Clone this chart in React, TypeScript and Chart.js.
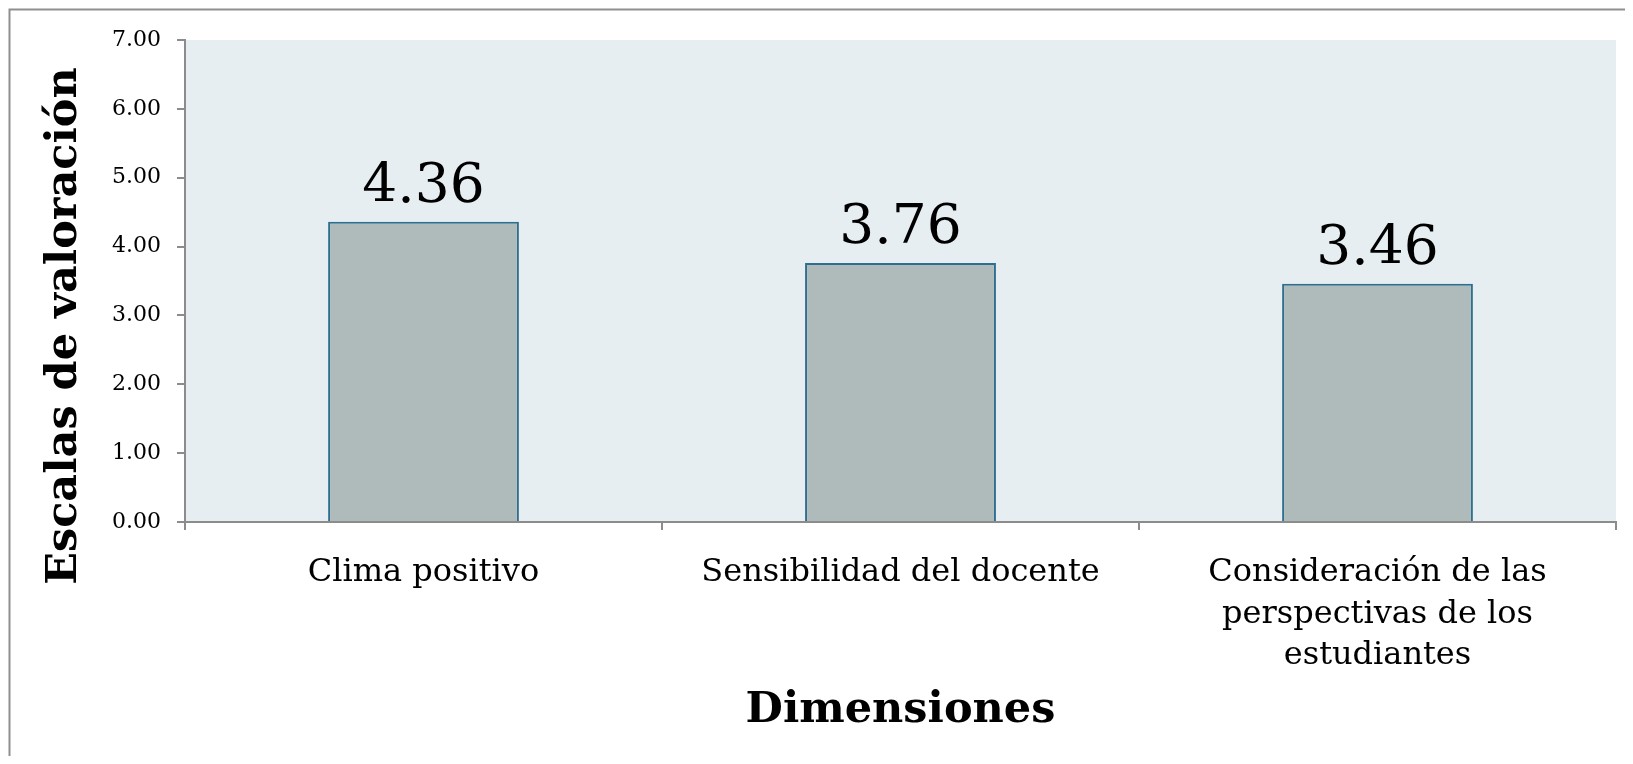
import React, { useEffect, useRef } from "react";
import { Chart, registerables } from "chart.js";

Chart.register(...registerables);

const categories: string[][] = [
  ["Clima positivo"],
  ["Sensibilidad del docente"],
  ["Consideración de las", "perspectivas de los", "estudiantes"],
];
const values: number[] = [4.36, 3.76, 3.46];
const valueLabels: string[] = ["4.36", "3.76", "3.46"];
const yMin = 0;
const yMax = 7;
const yStep = 1;
const yAxisTitle = "Escalas de valoración";
const xAxisTitle = "Dimensiones";

const FONT = "'DejaVu Serif', 'Liberation Serif', serif";

const decorPlugin = {
  id: "decor",
  beforeDraw(chart: any) {
    const { ctx, chartArea } = chart;
    ctx.save();
    ctx.fillStyle = "#E6EEF2";
    ctx.fillRect(chartArea.left, chartArea.top, chartArea.right - chartArea.left, chartArea.bottom - chartArea.top);
    ctx.restore();
  },
  afterDatasetsDraw(chart: any) {
    const { ctx } = chart;
    const meta = chart.getDatasetMeta(0);
    ctx.save();
    ctx.fillStyle = "#000";
    ctx.font = `55px ${FONT}`;
    ctx.textAlign = "center";
    ctx.textBaseline = "alphabetic";
    meta.data.forEach((bar: any, i: number) => {
      ctx.fillText(valueLabels[i], bar.x, bar.y - 20);
    });
    ctx.restore();
  },
  afterDraw(chart: any) {
    const { ctx, chartArea, width, height } = chart;
    ctx.save();
    // frame
    ctx.strokeStyle = "#8f8f8f";
    ctx.lineWidth = 2;
    ctx.strokeRect(1.5, 1.5, width + 20, height + 20);
    // x title
    ctx.fillStyle = "#000";
    ctx.font = `bold 43px ${FONT}`;
    ctx.textAlign = "center";
    ctx.textBaseline = "alphabetic";
    ctx.fillText(xAxisTitle, (chartArea.left + chartArea.right) / 2, 714);
    // y title
    ctx.translate(68, 318);
    ctx.rotate(-Math.PI / 2);
    ctx.fillText(yAxisTitle, 0, 0);
    ctx.restore();
  },
};

export default function App() {
  const ref = useRef<HTMLCanvasElement | null>(null);
  useEffect(() => {
    if (!ref.current) return;
    const chart = new Chart(ref.current, {
      type: "bar",
      data: {
        labels: categories,
        datasets: [
          {
            data: values,
            backgroundColor: "#AFBABA",
            borderColor: "#2E6E8E",
            borderWidth: 2,
            categoryPercentage: 0.4,
            barPercentage: 1,
          },
        ],
      },
      options: {
        responsive: false,
        animation: false,
        devicePixelRatio: 1,
        layout: { padding: { top: 32, right: 9, bottom: 0, left: 0 } },
        plugins: {
          legend: { display: false },
          tooltip: { enabled: false },
          title: { display: false },
        },
        scales: {
          x: {
            z: 1,
            grid: {
              offset: true,
              drawOnChartArea: false,
              drawTicks: true,
              tickLength: 8,
              color: "#8c8c8c",
              lineWidth: 2,
            },
            border: { display: true, color: "#8c8c8c", width: 2 },
            ticks: {
              color: "#000",
              padding: 22,
              maxRotation: 0,
              autoSkip: false,
              font: { family: FONT, size: 32, lineHeight: 1.3 },
            },
            afterFit(scale: any) {
              scale.height = 242;
            },
          },
          y: {
            z: 1,
            min: yMin,
            max: yMax,
            grid: {
              drawOnChartArea: false,
              drawTicks: true,
              tickLength: 8,
              color: "#8c8c8c",
              lineWidth: 2,
            },
            border: { display: true, color: "#8c8c8c", width: 2 },
            ticks: {
              stepSize: yStep,
              color: "#000",
              padding: 16,
              font: { family: FONT, size: 22 },
              callback: (v: any) => Number(v).toFixed(2),
            },
            afterFit(scale: any) {
              scale.width = 177;
            },
          },
        },
      },
      plugins: [decorPlugin],
    });
    return () => chart.destroy();
  }, []);
  return (
    <canvas
      ref={ref}
      width={1617}
      height={756}
      style={{ display: "block", width: 1617, height: 756, marginBottom: -8 }}
    />
  );
}
